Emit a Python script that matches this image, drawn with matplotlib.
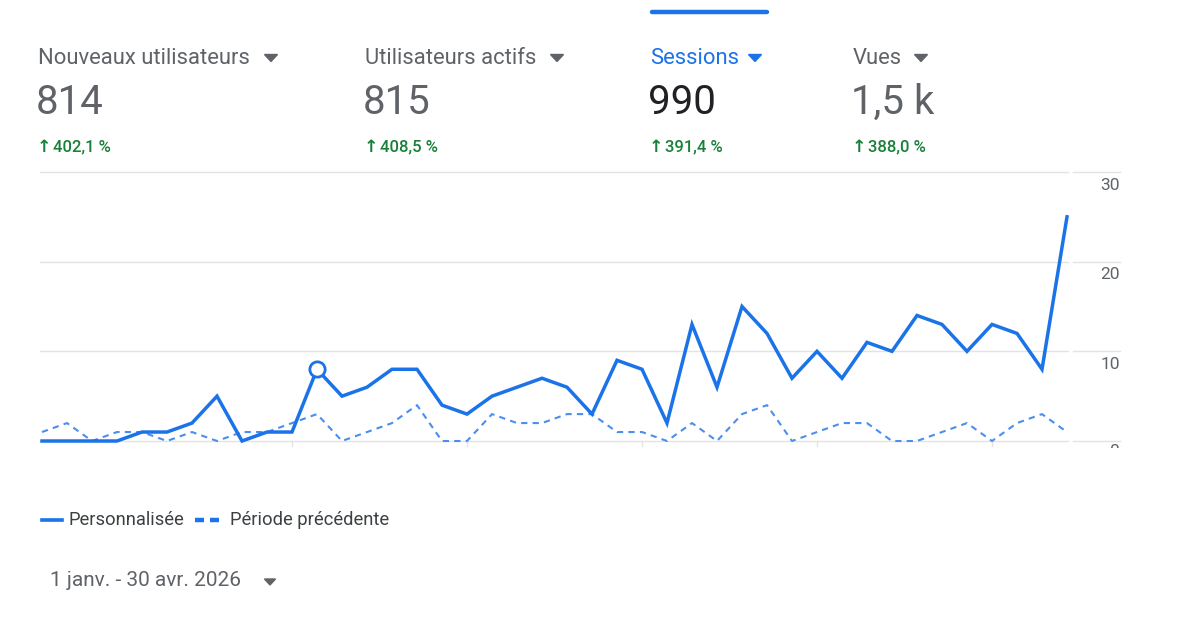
import matplotlib.pyplot as plt
from matplotlib.patches import Rectangle, Polygon

plt.rcParams['font.family'] = ['Roboto', 'DejaVu Sans']

# header cards
metric_names = ['Nouveaux utilisateurs', 'Utilisateurs actifs', 'Sessions', 'Vues']
metric_values = ['814', '815', '990', '1,5 k']
metric_changes = ['402,1 %', '408,5 %', '391,4 %', '388,0 %']
selected = 'Sessions'

# series (one point every few days, 1 janv. - 30 avr. 2026)
current = [0, 0, 0, 0, 1, 1, 2, 5, 0, 1, 1, 8, 5, 6, 8, 8, 4, 3, 5, 6, 7,
           6, 3, 9, 8, 2, 13, 6, 15, 12, 7, 10, 7, 11, 10, 14, 13, 10, 13, 12, 8, 25]
previous = [1, 2, 0, 1, 1, 0, 1, 0, 1, 1, 2, 3, 0, 1, 2, 4, 0, 0, 3, 2, 2,
            3, 3, 1, 1, 0, 2, 0, 3, 4, 0, 1, 2, 2, 0, 0, 1, 2, 0, 2, 3, 1]
highlight_idx = 11
y_ticks = [10, 20, 30]
x_tick_idx = [10, 17, 24, 31, 38]
legend_labels = ['Personnalisée', 'Période précédente']
date_range = '1 janv. - 30 avr. 2026'

W, H = 1200, 628
BLUE = '#1a73e8'
GRAY = '#5f6368'
GREEN = '#188038'
GRID = '#e3e3e3'

fig = plt.figure(figsize=(W / 100, H / 100), dpi=100)

def fx(px):
    return px / W

def fy(py):
    return 1 - py / H

def triangle(cx, cy, w, h, color):
    pts = [(fx(cx - w / 2), fy(cy - h / 2)), (fx(cx + w / 2), fy(cy - h / 2)),
           (fx(cx), fy(cy + h / 2))]
    fig.add_artist(Polygon(pts, closed=True, color=color, transform=fig.transFigure))

# selected-tab bar
fig.add_artist(plt.Line2D([fx(652), fx(767)], [fy(12), fy(12)], color=BLUE,
                          lw=3.2, solid_capstyle='round'))

col_x = [38, 365, 650, 853]
tri_x = [271, 557, 755, 921]
for name, val, chg, x, tx in zip(metric_names, metric_values, metric_changes, col_x, tri_x):
    sel = name == selected
    c = BLUE if sel else GRAY
    fig.text(fx(x), fy(58), name, fontsize=15.8, color=c, va='center', ha='left')
    triangle(tx, 58, 13, 7, c)
    fig.text(fx(x - 2), fy(102), val, fontsize=29, color='#202124' if sel else GRAY,
             va='center', ha='left')
    fig.text(fx(x - 1), fy(147), '↑', fontsize=12.5, color=GREEN, va='center', ha='left',
             family=['DejaVu Sans'], fontweight='bold')
    fig.text(fx(x + 15), fy(147), chg, fontsize=12, color=GREEN, va='center',
             ha='left', fontweight='medium')

# chart axes: pixel 40..1120 horizontally, 172..441 vertically
ax_l, ax_r, ax_t, ax_b = 40, 1120, 172, 441
ax = fig.add_axes([fx(ax_l), fy(ax_b), fx(ax_r - ax_l), (ax_b - ax_t) / H])
step = 25.0
x0 = 42
ax.set_xlim((ax_l - x0) / step, (ax_r - x0) / step)
ax.set_ylim(0, 30)
ax.axis('off')

xs = list(range(len(current)))
for t in [0] + y_ticks:
    ax.plot([(ax_l - x0) / step, (1068 - x0) / step], [t, t], color=GRID, lw=1,
            clip_on=False, zorder=0)
    ax.plot([(1073 - x0) / step, (ax_r - x0) / step], [t, t], color=GRID, lw=1,
            clip_on=False, zorder=0)
for t in y_ticks:
    ax.annotate(str(t), xy=((ax_r - x0) / step, t), xytext=(0, -4),
                textcoords='offset points', ha='right', va='top', fontsize=12.5,
                color=GRAY)
for i in x_tick_idx:
    ax.plot([i, i], [0, -0.6], color=GRID, lw=1, clip_on=False, zorder=0)

ax.plot(xs, previous, color='#4a8ef0', lw=1.5, dashes=(3, 2.5), clip_on=False, zorder=2)
ax.plot(xs, current, color=BLUE, lw=2.5, clip_on=False, zorder=3,
        solid_joinstyle='miter')
ax.plot([highlight_idx], [current[highlight_idx]], 'o', ms=11, mfc='white', mec=BLUE,
        mew=2, clip_on=False, zorder=4)

# half-hidden "0" label at the bottom
zero = fig.text(fx(1120), fy(444), '0', fontsize=12.5, color=GRAY, ha='right', va='top')
zero.set_clip_path(Rectangle((fx(1100), fy(448)), fx(30), fy(440) - fy(448),
                             transform=fig.transFigure))

# legend
fig.add_artist(plt.Line2D([fx(42), fx(62)], [fy(520), fy(520)], color=BLUE, lw=2.6))
fig.text(fx(68), fy(520), legend_labels[0], fontsize=13.2, color='#3c4043',
         va='center', ha='left')
for a, b in [(195, 204), (210, 219)]:
    fig.add_artist(plt.Line2D([fx(a), fx(b)], [fy(520), fy(520)], color=BLUE, lw=3.2,
                              solid_capstyle='butt'))
fig.text(fx(230), fy(520), legend_labels[1], fontsize=13.2, color='#3c4043',
         va='center', ha='left')

# date selector
fig.text(fx(50), fy(581), date_range, fontsize=15, color=GRAY, va='center', ha='left')
triangle(270, 582, 11, 6, GRAY)

fig.savefig('out.png', dpi=100, facecolor='white')
